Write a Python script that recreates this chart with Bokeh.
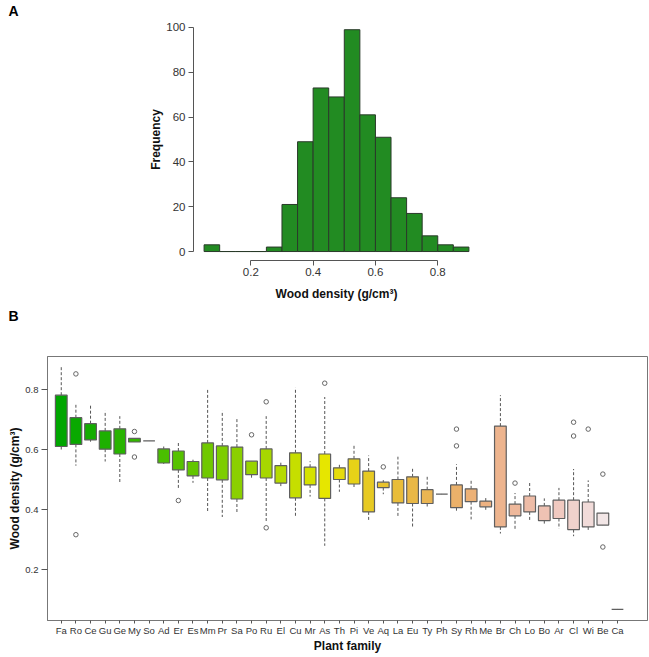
import colorsys
from bokeh.plotting import figure
from bokeh.models import Range1d, FixedTicker, Title, ColumnDataSource
from bokeh.embed import file_html
from bokeh.resources import INLINE

# ---------------- Panel A: histogram data ----------------
bin_left = [0.05, 0.10, 0.15, 0.20, 0.25, 0.30, 0.35, 0.40, 0.45,
            0.50, 0.55, 0.60, 0.65, 0.70, 0.75, 0.80, 0.85]
bin_right = [0.10, 0.15, 0.20, 0.25, 0.30, 0.35, 0.40, 0.45, 0.50,
             0.55, 0.60, 0.65, 0.70, 0.75, 0.80, 0.85, 0.90]
counts = [3, 0, 0, 0, 2, 21, 49, 73, 69, 99, 61, 51, 24, 17, 7, 3, 2]
hist_xticks = [0.2, 0.4, 0.6, 0.8]
hist_yticks = [0, 20, 40, 60, 80, 100]

# ---------------- Panel B: boxplot data ----------------
families = ["Fa", "Ro", "Ce", "Gu", "Ge", "My", "So", "Ad", "Er", "Es",
            "Mm", "Pr", "Sa", "Po", "Ru", "El", "Cu", "Mr", "As", "Th",
            "Pi", "Ve", "Aq", "La", "Eu", "Ty", "Ph", "Sy", "Rh", "Me",
            "Br", "Ch", "Lo", "Bo", "Ar", "Cl", "Wi", "Be", "Ca"]
whisk_hi = [0.879, 0.750, 0.750, 0.730, 0.712, 0.638, 0.630, 0.611, 0.624, 0.567,
            0.800, 0.730, 0.706, 0.562, 0.712, 0.562, 0.807, 0.562, 0.776, 0.550,
            0.617, 0.581, 0.499, 0.577, 0.542, 0.510, 0.452, 0.552, 0.501, 0.440,
            0.782, 0.456, 0.492, 0.438, 0.473, 0.536, 0.498, 0.389, 0.068]
q3 = [0.782, 0.707, 0.687, 0.663, 0.670, 0.638, 0.630, 0.603, 0.596, 0.561,
      0.623, 0.613, 0.609, 0.562, 0.603, 0.547, 0.590, 0.542, 0.586, 0.540,
      0.570, 0.529, 0.492, 0.501, 0.510, 0.467, 0.452, 0.483, 0.470, 0.429,
      0.679, 0.419, 0.446, 0.413, 0.432, 0.432, 0.426, 0.389, 0.068]
median = [0.716, 0.668, 0.659, 0.639, 0.637, 0.630, 0.630, 0.593, 0.569, 0.559,
          0.549, 0.540, 0.539, 0.536, 0.533, 0.528, 0.524, 0.519, 0.518, 0.516,
          0.509, 0.504, 0.484, 0.480, 0.472, 0.457, 0.452, 0.444, 0.431, 0.421,
          0.413, 0.411, 0.402, 0.402, 0.390, 0.370, 0.368, 0.364, 0.068]
q1 = [0.611, 0.618, 0.633, 0.602, 0.586, 0.626, 0.630, 0.556, 0.533, 0.513,
      0.506, 0.500, 0.436, 0.517, 0.506, 0.489, 0.440, 0.483, 0.438, 0.501,
      0.486, 0.393, 0.474, 0.423, 0.421, 0.421, 0.452, 0.407, 0.427, 0.410,
      0.343, 0.380, 0.393, 0.364, 0.371, 0.334, 0.343, 0.349, 0.068]
whisk_lo = [0.600, 0.547, 0.627, 0.561, 0.489, 0.626, 0.630, 0.553, 0.473, 0.490,
            0.391, 0.376, 0.390, 0.503, 0.361, 0.473, 0.380, 0.444, 0.280, 0.460,
            0.476, 0.363, 0.452, 0.378, 0.344, 0.411, 0.452, 0.393, 0.368, 0.396,
            0.321, 0.331, 0.360, 0.353, 0.337, 0.312, 0.330, 0.349, 0.068]
outlier_family = ["Ro", "Ro", "My", "My", "Er", "Po", "Ru", "Ru", "As", "Aq",
                  "Sy", "Sy", "Ch", "Cl", "Cl", "Wi", "Be", "Be"]
outlier_value = [0.853, 0.317, 0.661, 0.576, 0.431, 0.650, 0.760, 0.340, 0.822, 0.543,
                 0.669, 0.613, 0.489, 0.692, 0.646, 0.669, 0.519, 0.276]
box_yticks = [0.2, 0.4, 0.6, 0.8]


def terrain_colors(n):
    # R's terrain.colors palette
    k = n // 2
    cols = []
    def lin(a, b, m):
        return [a + (b - a) * i / (m - 1) for i in range(m)] if m > 1 else [a]
    h1, s1, v1 = lin(4/12, 2/12, k), lin(1, 1, k), lin(0.65, 0.9, k)
    m = n - k + 1
    h2, s2, v2 = lin(2/12, 0, m)[1:], lin(1, 0, m)[1:], lin(0.9, 0.95, m)[1:]
    for h, s, v in zip(h1 + h2, s1 + s2, v1 + v2):
        r, g, b = colorsys.hsv_to_rgb(h, s, v)
        cols.append("#%02x%02x%02x" % (round(r * 255), round(g * 255), round(b * 255)))
    return cols


FONT = "Liberation Sans"
W = 649
H1 = 326
H2 = 331


def panel_title(text, standoff):
    t = Title(text=text, align="left", offset=-185, standoff=standoff)
    t.text_font = FONT
    t.text_font_size = "14px"
    t.text_font_style = "bold"
    t.text_color = "#000000"
    return t


# ---------------- Figure A ----------------
p1 = figure(width=W, height=H1, output_backend="svg", toolbar_location=None,
            x_range=Range1d(0.016, 0.934), y_range=Range1d(-4, 104),
            min_border_left=193, min_border_right=170, min_border_top=17, min_border_bottom=66)
p1.title = panel_title("A", 0)
p1.outline_line_color = None
p1.grid.visible = False
p1.quad(left=bin_left, right=bin_right, bottom=0, top=counts,
        fill_color="#228B22", line_color="#2a3a2a", line_width=1)

for ax in (p1.xaxis[0], p1.yaxis[0]):
    ax.axis_line_color = "#555555"
    ax.major_tick_line_color = "#555555"
    ax.minor_tick_line_color = None
    ax.major_tick_in = 0
    ax.major_tick_out = 5
    ax.major_label_text_font = FONT
    ax.major_label_text_font_size = "11.5px"
    ax.major_label_text_color = "#333333"
    ax.axis_label_text_font = FONT
    ax.axis_label_text_font_size = "12px"
    ax.axis_label_text_font_style = "bold"
    ax.axis_label_text_color = "#111111"
p1.xaxis.ticker = FixedTicker(ticks=hist_xticks)
p1.xaxis.bounds = (hist_xticks[0], hist_xticks[-1])
p1.yaxis.ticker = FixedTicker(ticks=hist_yticks)
p1.yaxis.bounds = (hist_yticks[0], hist_yticks[-1])
p1.xaxis.axis_label = "Wood density (g/cm³)"
p1.yaxis.axis_label = "Frequency"
p1.xaxis.major_label_standoff = 2
p1.xaxis.axis_label_standoff = 8
p1.yaxis.major_label_standoff = 3
p1.yaxis.axis_label_standoff = 0

# panel letter "B" sits below panel A
p1.add_layout(panel_title("B", 4), "below")

# ---------------- Figure B ----------------
n = len(families)
colors = terrain_colors(n)
xs = list(range(1, n + 1))
src = ColumnDataSource(dict(x=xs, fam=families, hi=whisk_hi, q3=q3, med=median,
                            q1=q1, lo=whisk_lo, color=colors))
pos = {f: i + 1 for i, f in enumerate(families)}
out_x = [pos[f] for f in outlier_family]

p2 = figure(width=W, height=H2, output_backend="svg", toolbar_location=None,
            x_range=Range1d(0.06, 41.05), y_range=Range1d(0.031, 0.911),
            min_border_left=47, min_border_right=2, min_border_top=30, min_border_bottom=37)
p2.grid.visible = False
p2.outline_line_color = "#777777"
p2.outline_line_width = 1

# whiskers
p2.segment(x0="x", y0="q3", x1="x", y1="hi", source=src, line_color="#555555",
           line_width=1, line_dash="3 2")
p2.segment(x0="x", y0="q1", x1="x", y1="lo", source=src, line_color="#555555",
           line_width=1, line_dash="3 2")
# staples
p2.rect(x="x", y="hi", width=0.4, height=0, source=src, line_color="#555555", fill_color=None)
p2.rect(x="x", y="lo", width=0.4, height=0, source=src, line_color="#555555", fill_color=None)
# boxes
p2.vbar(x="x", bottom="q1", top="q3", width=0.8, source=src, fill_color="color",
        line_color="#5f5f5f", line_width=1.2)
# medians
p2.rect(x="x", y="med", width=0.8, height=0, source=src, line_color="#111111",
        line_width=2.5, fill_color=None)
# outliers
p2.scatter(x=out_x, y=outlier_value, marker="circle", size=4.5, fill_color=None,
           line_color="#666666", line_width=1)

for ax in (p2.xaxis[0], p2.yaxis[0]):
    ax.axis_line_color = "#777777"
    ax.major_tick_line_color = "#555555"
    ax.minor_tick_line_color = None
    ax.major_tick_in = 0
    ax.major_label_text_font = FONT
    ax.major_label_text_font_size = "9.5px"
    ax.major_label_text_color = "#333333"
    ax.axis_label_text_font = FONT
    ax.axis_label_text_font_size = "12px"
    ax.axis_label_text_font_style = "bold"
    ax.axis_label_text_color = "#111111"
p2.yaxis.ticker = FixedTicker(ticks=box_yticks)
p2.yaxis.major_tick_out = 6
p2.yaxis.major_label_standoff = 3
p2.yaxis.axis_label_standoff = 0
p2.yaxis.axis_label = "Wood density (g/cm³)"
p2.xaxis.ticker = FixedTicker(ticks=xs)
p2.xaxis.major_label_overrides = {i: f for i, f in zip(xs, families)}
p2.xaxis.major_tick_out = 3
p2.xaxis.major_label_standoff = 1
p2.xaxis.axis_label_standoff = 0
p2.xaxis.axis_label = "Plant family"

open("out.html", "w").write(file_html([p1, p2], INLINE))
